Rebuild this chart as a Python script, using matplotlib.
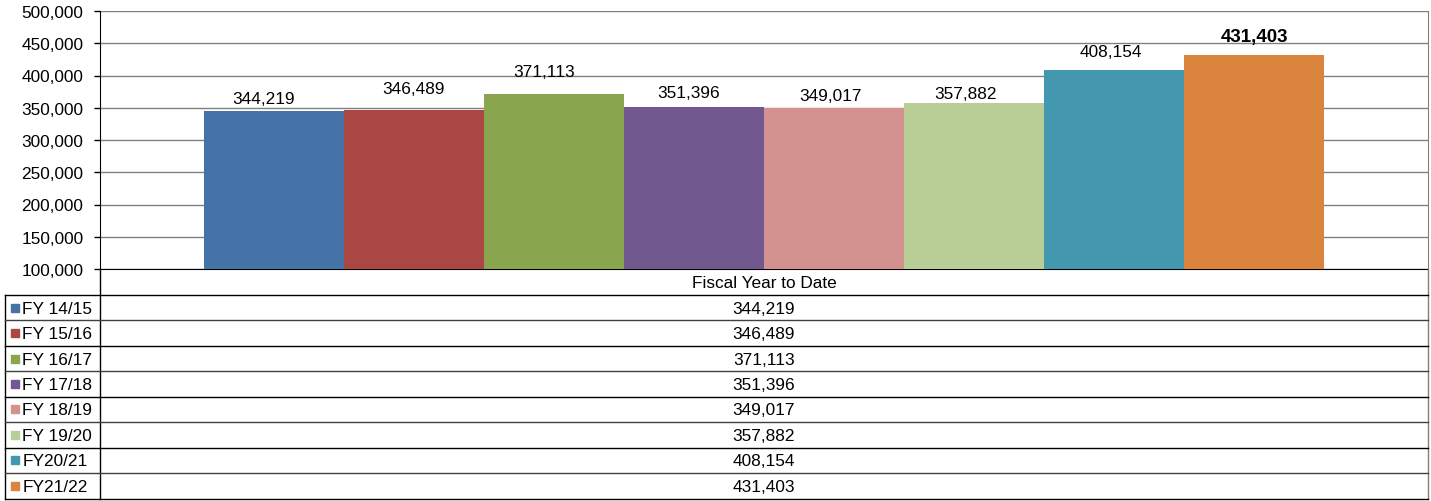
import matplotlib
matplotlib.use("Agg")
import matplotlib.pyplot as plt
from matplotlib.ticker import FuncFormatter

plt.rcParams["font.family"] = ["Liberation Sans", "DejaVu Sans"]

category = "Fiscal Year to Date"
years = ["FY 14/15", "FY 15/16", "FY 16/17", "FY 17/18",
         "FY 18/19", "FY 19/20", "FY20/21", "FY21/22"]
values = [344219, 346489, 371113, 351396, 349017, 357882, 408154, 431403]
colors = ["#4572A7", "#AA4643", "#89A54E", "#71588F",
          "#D39290", "#B9CE97", "#4398AF", "#DB843D"]
# label offsets in pixels (dx, dy above bar top), as placed in the original
label_off = [(-10, 13), (0, 22), (-10, 23), (-5, 14),
             (-3, 13), (-8, 9.5), (-3, 18.5), (1, 18.5)]

FS = 12.4
W, H = 1431, 502
fig = plt.figure(figsize=(W / 100, H / 100), dpi=100)

# plot area in pixel coordinates
L, R, T, B = 100, 1428, 12, 270
ax = fig.add_axes([L / W, 1 - B / H, (R - L) / W, (B - T) / H])

x = list(range(len(values)))
ax.bar(x, values, width=1.0, color=colors, zorder=3)
gap = 104 / 140
ax.set_xlim(-0.5 - gap, len(values) - 0.5 + gap)
ax.set_ylim(100000, 500000)
ax.set_yticks(range(100000, 500001, 50000))
ax.yaxis.set_major_formatter(FuncFormatter(lambda v, p: f"{int(v):,}"))
ax.tick_params(axis="y", labelsize=FS, length=4, width=1, color="black", pad=8)
ax.set_xticks([])
ax.grid(axis="y", color="#808080", linewidth=1, zorder=0)
ax.spines["left"].set_color("black")
ax.spines["bottom"].set_color("black")
ax.spines["right"].set_color("#808080")
ax.spines["top"].set_visible(False)

for i, (v, (dx, dy)) in enumerate(zip(values, label_off)):
    last = i == len(values) - 1
    ax.annotate(f"{v:,}", xy=(i, v), xytext=(dx * 0.72, dy * 0.72),
                textcoords="offset points", ha="center", va="center",
                fontsize=13.5 if last else FS,
                fontweight="bold" if last else "normal", zorder=4)

# data table drawn underneath in pixel coordinates
tab = fig.add_axes([0, 0, 1, 1])
tab.set_xlim(0, W)
tab.set_ylim(H, 0)
tab.axis("off")

header_bottom = 296
row_h = (499.5 - header_bottom) / len(years)
lw = 1
tab.plot([L, L], [B, 499.5], color="black", lw=lw)
tab.plot([R, R], [B, 499.5], color="#808080", lw=lw)
tab.plot([5, 5], [header_bottom, 499.5], color="black", lw=lw)
tab.text((L + R) / 2, (B + header_bottom) / 2 + 1, category,
         ha="center", va="center", fontsize=FS)
for k in range(len(years) + 1):
    yy = header_bottom + k * row_h
    tab.plot([5, R], [yy, yy], color="black" if k % 2 == 0 else "#404040", lw=lw)
for k, (name, v, c) in enumerate(zip(years, values, colors)):
    yc = header_bottom + (k + 0.5) * row_h
    tab.plot([14.5], [yc], marker="s", markersize=6.3, color=c, linestyle="none")
    tab.text(22.5, yc + 0.5, name, ha="left", va="center", fontsize=FS)
    tab.text((L + R) / 2, yc + 0.5, f"{v:,}", ha="center", va="center", fontsize=FS)

fig.savefig("out.png", dpi=100)
